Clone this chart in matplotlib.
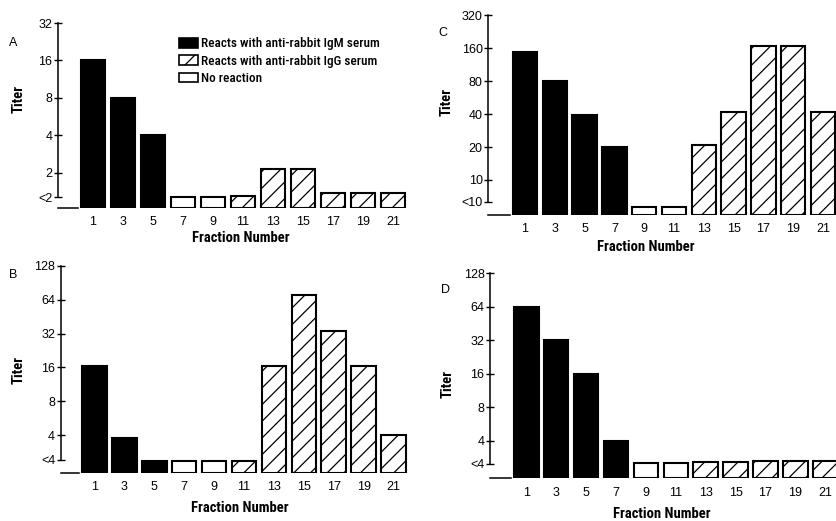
import matplotlib
matplotlib.use("Agg")
import matplotlib.pyplot as plt
from matplotlib.patches import Patch

W, H = 836, 521
NARROW = ['Roboto Condensed', 'DejaVu Sans']
REG = ['Liberation Sans', 'DejaVu Sans']
plt.rcParams['font.family'] = REG
plt.rcParams['hatch.linewidth'] = 0.9

# ---------------- data ----------------
fractions = [1, 3, 5, 7, 9, 11, 13, 15, 17, 19, 21]
frac_labels = ['1', '3', '5', '7', '9', '11', '13', '15', '17', '19', '21']

# reaction type: 'M' = IgM, 'G' = IgG, 'N' = no reaction
titer_A = [16, 8, 4, 1.28, 1.28, 1.31, 2.15, 2.17, 1.38, 1.38, 1.38]
type_A = ['M', 'M', 'M', 'N', 'N', 'G', 'G', 'G', 'G', 'G', 'G']
yticks_A = [1.28, 2, 4, 8, 16, 32]
ylabels_A = ['<2', '2', '4', '8', '16', '32']

titer_B = [16.3, 3.8, 2.37, 2.35, 2.35, 2.35, 16.5, 70, 34, 16.5, 4.0]
type_B = ['M', 'M', 'M', 'N', 'N', 'G', 'G', 'G', 'G', 'G', 'G']
yticks_B = [2.40, 4, 8, 16, 32, 64, 128]
ylabels_B = ['<4', '4', '8', '16', '32', '64', '128']

titer_C = [149, 80, 39, 20, 5.6, 5.6, 21, 42, 168, 168, 42]
type_C = ['M', 'M', 'M', 'M', 'N', 'N', 'G', 'G', 'G', 'G', 'G']
yticks_C = [6.33, 10, 20, 40, 80, 160, 320]
ylabels_C = ['<10', '10', '20', '40', '80', '160', '320']

titer_D = [64, 32, 16, 4, 2.55, 2.55, 2.57, 2.6, 2.62, 2.65, 2.67]
type_D = ['M', 'M', 'M', 'M', 'N', 'N', 'G', 'G', 'G', 'G', 'G']
yticks_D = [2.49, 4, 8, 16, 32, 64, 128]
ylabels_D = ['<4', '4', '8', '16', '32', '64', '128']

legend_labels = ['Reacts with anti-rabbit IgM serum',
                 'Reacts with anti-rabbit IgG serum',
                 'No reaction']

# ---------------- layout (pixels) ----------------
panels = [
    dict(name='A', titer=titer_A, kind=type_A, yt=yticks_A, yl=ylabels_A,
         spine_x=58, x1=93, unit=15.0, right=414, base_y=208, top_y=23, ybase=1.047,
         letter=(13, 43), titer_lab=(19, 99), xlab=(241, 238)),
    dict(name='B', titer=titer_B, kind=type_B, yt=yticks_B, yl=ylabels_B,
         spine_x=60.7, x1=94.5, unit=14.95, right=414, base_y=473, top_y=266, ybase=1.835,
         letter=(13, 275), titer_lab=(19, 370), xlab=(240, 508)),
    dict(name='C', titer=titer_C, kind=type_C, yt=yticks_C, yl=ylabels_C,
         spine_x=488.3, x1=525, unit=14.9, right=850, base_y=215, top_y=15.3, ybase=4.78,
         letter=(443, 33), titer_lab=(447, 102), xlab=(646, 247)),
    dict(name='D', titer=titer_D, kind=type_D, yt=yticks_D, yl=ylabels_D,
         spine_x=490, x1=526.3, unit=14.95, right=850, base_y=478.3, top_y=273.3, ybase=1.85,
         letter=(445, 290), titer_lab=(448, 384), xlab=(662, 514)),
]

styles = {
    'M': dict(facecolor='black', hatch=None),
    'G': dict(facecolor='white', hatch='//'),
    'N': dict(facecolor='white', hatch=None),
}

fig = plt.figure(figsize=(W / 100, H / 100), dpi=100)

BAR_W = 1.64
for p in panels:
    left = p['spine_x'] / W
    bottom = 1 - p['base_y'] / H
    width = (p['right'] - p['spine_x']) / W
    height = (p['base_y'] - p['top_y']) / H
    ax = fig.add_axes([left, bottom, width, height])
    ax.set_yscale('log', base=2)
    xmin = 1 - (p['x1'] - p['spine_x']) / p['unit']
    xmax = xmin + (p['right'] - p['spine_x']) / p['unit']
    ax.set_xlim(xmin, xmax)
    ax.set_ylim(p['ybase'], p['yt'][-1])
    for f, t, k in zip(fractions, p['titer'], p['kind']):
        st = styles[k]
        ax.bar(f, t - p['ybase'], bottom=p['ybase'], width=BAR_W,
               facecolor=st['facecolor'], hatch=st['hatch'],
               edgecolor='black', linewidth=1.5, zorder=2)
    for s in ['top', 'right']:
        ax.spines[s].set_visible(False)
    ax.spines['left'].set_bounds(p['yt'][0], p['yt'][-1])
    ax.spines['left'].set_linewidth(1.1)
    ax.spines['bottom'].set_bounds(xmin, 1 - BAR_W / 2 - 0.2)
    ax.spines['bottom'].set_linewidth(1.1)
    ax.set_yticks(p['yt'])
    ax.set_yticklabels(p['yl'])
    ax.yaxis.set_minor_locator(matplotlib.ticker.NullLocator())
    ax.tick_params(axis='y', direction='inout', length=6, width=1.0, pad=1, labelsize=9)
    ax.set_xticks(fractions)
    ax.set_xticklabels(frac_labels)
    ax.tick_params(axis='x', length=0, pad=6, labelsize=9)
    ax.patch.set_visible(False)

    fig.text(p['letter'][0] / W, 1 - p['letter'][1] / H, p['name'],
             ha='center', va='center', fontsize=9, family=REG)
    fig.text(p['titer_lab'][0] / W, 1 - p['titer_lab'][1] / H, 'Titer',
             ha='center', va='center', rotation=90, fontsize=10.5,
             fontweight='bold', family=NARROW)
    fig.text(p['xlab'][0] / W, 1 - p['xlab'][1] / H, 'Fraction Number',
             ha='center', va='center', fontsize=10.5, fontweight='bold', family=NARROW)

handles = [Patch(facecolor='black', edgecolor='black', linewidth=1.2),
           Patch(facecolor='white', edgecolor='black', hatch='//', linewidth=1.2),
           Patch(facecolor='white', edgecolor='black', linewidth=1.2)]
fig.legend(handles, legend_labels, loc='upper left',
           bbox_to_anchor=(179 / W, 1 - 37.5 / H), frameon=False,
           prop=dict(family=NARROW, size=9.5, weight='medium'),
           handlelength=1.45, handleheight=0.75,
           handletextpad=0.2, labelspacing=0.33, borderpad=0, borderaxespad=0)

fig.savefig('out.png', dpi=100)
